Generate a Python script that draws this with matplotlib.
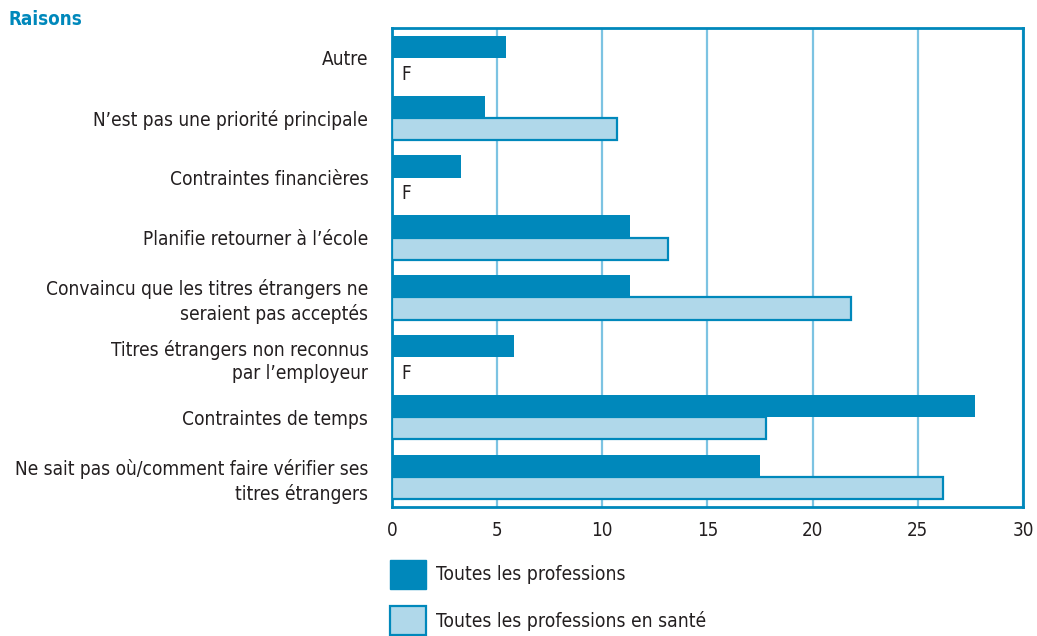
import matplotlib
matplotlib.use("Agg")
import matplotlib.pyplot as plt
from matplotlib.patches import Patch
import numpy as np
from matplotlib import font_manager

categories = [
    "Autre",
    "N’est pas une priorité principale",
    "Contraintes financières",
    "Planifie retourner à l’école",
    "Convaincu que les titres étrangers ne\nseraient pas acceptés",
    "Titres étrangers non reconnus\npar l’employeur",
    "Contraintes de temps",
    "Ne sait pas où/comment faire vérifier ses\ntitres étrangers",
]
toutes = [5.4, 4.4, 3.3, 11.3, 11.3, 5.8, 27.7, 17.5]
sante = [None, 10.7, None, 13.1, 21.8, None, 17.8, 26.2]
series_labels = ["Toutes les professions", "Toutes les professions en santé"]
xticks = [0, 5, 10, 15, 20, 25, 30]

cond = [f for f in font_manager.fontManager.ttflist
        if 'condensed' in str(f.stretch).lower() or 'Condensed' in f.fname]
if cond:
    fam = cond[0].name
    stretch = cond[0].stretch
else:
    fam = "Liberation Sans"
    stretch = "normal"
plt.rcParams['font.family'] = [fam, 'DejaVu Sans']
plt.rcParams['font.stretch'] = stretch

DARK = "#0088bb"
LIGHT = "#b0d8ea"
GRID = "#7cc3e2"
TXT = "#231f20"

fig = plt.figure(figsize=(10.37, 6.36), dpi=100)
ax = fig.add_axes([0.378, 0.203, 0.9865 - 0.378, 0.956 - 0.203])

y = np.arange(len(categories))
h = 0.37
ax.barh(y - h / 2, toutes, height=h, color=DARK, edgecolor="none", zorder=3)
for yi, v in zip(y, sante):
    if v is None:
        ax.text(0.45, yi + 0.27, "F", ha="left", va="center",
                fontsize=13.5, color=TXT, zorder=4)
    else:
        ax.barh(yi + h / 2, v, height=h, color=LIGHT, edgecolor=DARK,
                linewidth=1.6, zorder=3)

ax.set_ylim(len(categories) - 0.5, -0.5)
ax.set_xlim(0, 30)
ax.set_xticks(xticks)
ax.set_xticklabels([str(t) for t in xticks], fontsize=13.5, color=TXT)
ax.set_yticks(y)
ax.set_yticklabels(categories, fontsize=13.7, color=TXT, linespacing=1.3)
ax.tick_params(axis='both', length=0)
ax.tick_params(axis='y', pad=17)
ax.tick_params(axis='x', pad=10)
ax.xaxis.grid(True, color=GRID, linewidth=1.6, zorder=0)
for s in ax.spines.values():
    s.set_color(DARK)
    s.set_linewidth(2)

fig.text(0.008, 0.97, "Raisons", fontsize=13.5, fontweight="bold",
         color=DARK, ha="left", va="center")

handles = [Patch(facecolor=DARK, edgecolor=DARK),
           Patch(facecolor=LIGHT, edgecolor=DARK, linewidth=1.6)]
leg = fig.legend(handles, series_labels, loc="upper left",
                 bbox_to_anchor=(0.376, 0.12), frameon=False,
                 fontsize=13.9, handlelength=1.85, handleheight=1.95,
                 labelspacing=0.9, handletextpad=0.55, borderaxespad=0,
                 borderpad=0)
for t in leg.get_texts():
    t.set_color(TXT)

fig.savefig("out.png", dpi=100)
